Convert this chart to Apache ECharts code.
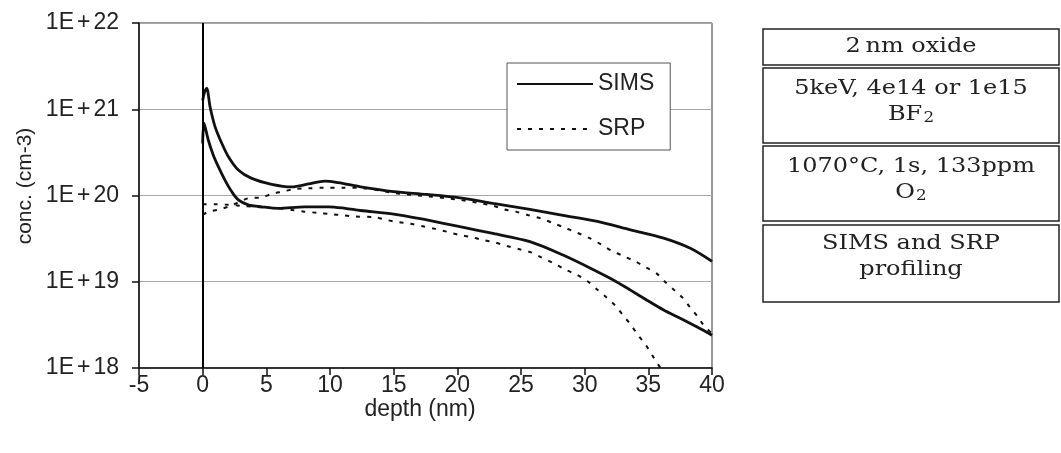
<!DOCTYPE html>
<html><head><meta charset="utf-8">
<script src="https://cdn.jsdelivr.net/npm/echarts@6/dist/echarts.min.js"></script>
<style>html,body{margin:0;padding:0;background:#fff}#c{width:1061px;height:453px}</style>
</head><body><div id="c"></div>
<script>
// ---- data ----
const yTickLabels = {18: '1E{p|+}18', 19: '1E{p|+}19', 20: '1E{p|+}20', 21: '1E{p|+}21', 22: '1E{p|+}22'};
const xAxisName = 'depth (nm)';
const yAxisName = 'conc. (cm-3)';

const simsHighDepth = [0, 0.15, 0.32, 0.58, 0.97, 1.5, 2.02, 2.8, 3.85, 5.42, 7.0, 8.3, 9.6, 10.65, 12.4, 15.0, 17.6, 20.2, 22.8, 25.7, 28.3, 31.0, 33.6, 36.2, 38.3, 40];
const simsHighConc  = [1.26e21, 1.58e21, 1.75e21, 1.07e21, 6.3e20, 4.03e20, 2.82e20, 1.98e20, 1.58e20, 1.35e20, 1.26e20, 1.36e20, 1.47e20, 1.41e20, 1.26e20, 1.11e20, 1.03e20, 9.4e19, 8.1e19, 6.9e19, 5.9e19, 5.0e19, 4.0e19, 3.2e19, 2.44e19, 1.72e19];

const simsLowDepth = [0, 0.1, 0.44, 0.83, 1.23, 1.75, 2.28, 2.8, 3.58, 4.64, 5.94, 8.0, 9.9, 11.2, 12.4, 15.0, 17.6, 20.2, 22.8, 25.7, 28.3, 31.0, 32.25, 33.6, 34.9, 36.2, 37.5, 38.8, 40];
const simsLowConc  = [4.0e20, 6.9e20, 4.4e20, 2.95e20, 2.16e20, 1.51e20, 1.11e20, 8.9e19, 7.8e19, 7.4e19, 7.1e19, 7.4e19, 7.4e19, 7.1e19, 6.7e19, 6.1e19, 5.2e19, 4.35e19, 3.63e19, 2.92e19, 2.04e19, 1.31e19, 1.05e19, 8.0e18, 6.1e18, 4.7e18, 3.77e18, 3.0e18, 2.4e18];

const srpHighDepth = [0, 0.5, 1.3, 2.0, 2.8, 3.6, 4.6, 5.5, 6.3, 7.2, 8.3, 9.5, 11, 12.5, 15, 17.6, 20.2, 22.8, 23.7, 24.6, 25.6, 26.6, 27.5, 28.5, 29.4, 30.4, 31.3, 32.1, 33.0, 34.0, 34.8, 35.65, 36.3, 37.0, 37.7, 38.3, 38.9, 39.3, 40];
const srpHighConc  = [6.0e19, 6.5e19, 6.9e19, 7.4e19, 8.3e19, 9.3e19, 9.5e19, 1.05e20, 1.11e20, 1.19e20, 1.21e20, 1.23e20, 1.23e20, 1.22e20, 1.07e20, 9.8e19, 8.9e19, 7.6e19, 6.9e19, 6.5e19, 5.9e19, 5.4e19, 4.8e19, 4.2e19, 3.7e19, 3.2e19, 2.7e19, 2.3e19, 2.0e19, 1.71e19, 1.47e19, 1.25e19, 1.0e19, 8.1e18, 6.5e18, 5.0e18, 3.9e18, 3.2e18, 2.5e18];

const srpLowDepth = [0, 1, 2, 3, 4, 5, 6, 7, 8, 9, 10, 11, 12, 13.5, 14.45, 15.4, 16.3, 17.3, 18.25, 19.2, 20.1, 21.1, 22.0, 23.0, 23.9, 24.9, 25.8, 26.6, 27.5, 28.5, 29.4, 30.2, 30.95, 31.7, 32.4, 33.0, 33.6, 34.2, 34.8, 35.3, 35.8, 35.95];
const srpLowConc  = [7.9e19, 7.9e19, 7.8e19, 7.6e19, 7.4e19, 7.2e19, 7.1e19, 6.8e19, 6.5e19, 6.3e19, 6.1e19, 5.9e19, 5.7e19, 5.6e19, 5.2e19, 4.9e19, 4.7e19, 4.4e19, 4.1e19, 3.8e19, 3.5e19, 3.3e19, 3.05e19, 2.84e19, 2.6e19, 2.38e19, 2.19e19, 1.92e19, 1.66e19, 1.38e19, 1.2e19, 1.02e19, 8.2e18, 6.6e18, 5.3e18, 4.1e18, 3.2e18, 2.4e18, 1.85e18, 1.41e18, 1.08e18, 1.0e18];

const noteLines = [
  ['2\u2009nm oxide'],
  ['5keV, 4e14 or 1e15', 'BF{sub|2}'],
  ['1070\u00b0C, 1s, 133ppm', 'O{sub|2}'],
  ['SIMS and SRP', 'profiling']
];

// ---- build ----
const pair = (xs, ys) => xs.map((x, i) => [x, ys[i]]);
const sansFont = '"Liberation Sans", Arial, sans-serif';
const serifFont = '"DejaVu Serif", serif';

const simsStyle = {color: '#111', width: 2.8, type: 'solid'};
const srpStyle = {color: '#111', width: 2, type: [4, 7]};

const boxes = [[29, 36], [68, 75], [146, 75], [225, 77]];
const lineY = [[47], [89, 115], [167, 193], [244, 270]];
const graphic = [];
boxes.forEach((b, i) => {
  graphic.push({type: 'rect', shape: {x: 763, y: b[0], width: 296, height: b[1]},
    style: {fill: '#fff', stroke: '#222', lineWidth: 1.5}});
  noteLines[i].forEach((t, j) => {
    graphic.push({type: 'text', x: 911, y: lineY[i][j], scaleX: 1.2,
      style: {text: t, fontFamily: serifFont, fontSize: 20, fill: '#222', align: 'center', verticalAlign: 'middle',
        rich: {sub: {fontFamily: serifFont, fontSize: 14, fill: '#222', verticalAlign: 'bottom', lineHeight: 12, padding: [6, 0, 0, 1]}}}});
  });
});
graphic.push({type: 'text', x: 25, y: 186, rotation: Math.PI / 2,
  style: {text: yAxisName, fontFamily: sansFont, fontSize: 21, fill: '#222', align: 'center', verticalAlign: 'middle'}});
graphic.push({type: 'text', x: 420, y: 410,
  style: {text: xAxisName, fontFamily: sansFont, fontSize: 23, fill: '#222', align: 'center', verticalAlign: 'middle'}});

const chart = echarts.init(document.getElementById('c'), null, {renderer: 'canvas'});
chart.setOption({
  animation: false,
  backgroundColor: '#fff',
  grid: {left: 139, right: 349, top: 23, bottom: 85, show: true, borderColor: '#333', borderWidth: 1, backgroundColor: 'transparent'},
  legend: {
    orient: 'vertical', left: 507, top: 63, padding: [9, 16, 9, 9],
    itemWidth: 76, itemHeight: 24, itemGap: 21,
    backgroundColor: '#fff', borderColor: '#555', borderWidth: 1,
    data: ['SIMS', 'SRP'],
    itemStyle: {opacity: 0},
    textStyle: {fontFamily: sansFont, fontSize: 23, color: '#222', lineHeight: 24}
  },
  xAxis: {
    type: 'value', min: -5, max: 40, interval: 5,
    axisLine: {onZero: false, lineStyle: {color: '#111', width: 1.5}},
    axisTick: {show: true, length: 7, lineStyle: {color: '#111', width: 1.5}},
    axisLabel: {fontFamily: sansFont, fontSize: 23, color: '#222', margin: 6},
    splitLine: {show: false}
  },
  yAxis: {
    type: 'log', logBase: 10, min: 1e18, max: 1e22,
    axisLine: {show: true, onZero: false, lineStyle: {color: '#111', width: 1.5}},
    axisTick: {show: true, length: 7, lineStyle: {color: '#111', width: 1.5}},
    minorTick: {show: false},
    axisLabel: {fontFamily: sansFont, fontSize: 23, color: '#222', margin: 20,
      rich: {p: {fontFamily: sansFont, fontSize: 23, color: '#222', padding: [0, 3, 0, 3]}},
      formatter: v => yTickLabels[Math.round(Math.log10(v))] || ''},
    splitLine: {show: true, lineStyle: {color: '#a8a8a8', width: 1.2}}
  },
  series: [
    {name: 'SIMS', type: 'line', data: pair(simsHighDepth, simsHighConc), symbol: 'none', smooth: 0.3, lineStyle: simsStyle, itemStyle: {color: '#111'},
      markLine: {silent: true, symbol: ['none', 'none'], label: {show: false}, lineStyle: {color: '#000', width: 2, type: 'solid'}, data: [{xAxis: 0}]}},
    {name: 'SIMS', type: 'line', data: pair(simsLowDepth, simsLowConc), symbol: 'none', smooth: 0.3, lineStyle: simsStyle, itemStyle: {color: '#111'}},
    {name: 'SRP', type: 'line', data: pair(srpHighDepth, srpHighConc), symbol: 'none', smooth: 0.3, lineStyle: srpStyle, itemStyle: {color: '#111'}},
    {name: 'SRP', type: 'line', data: pair(srpLowDepth, srpLowConc), symbol: 'none', smooth: 0.3, lineStyle: srpStyle, itemStyle: {color: '#111'}}
  ],
  graphic: graphic
});
</script>
</body></html>
